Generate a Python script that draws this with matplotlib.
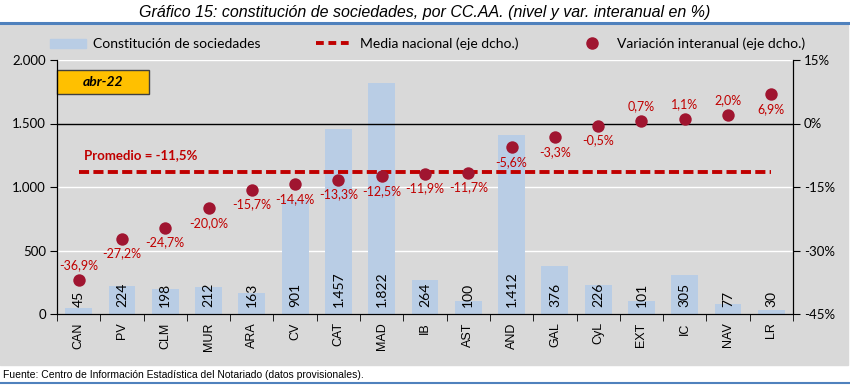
# coding: utf-8
import matplotlib
matplotlib.use("Agg")
import matplotlib.pyplot as plt
from matplotlib.patches import Rectangle
from matplotlib.lines import Line2D
from matplotlib.ticker import FuncFormatter, FixedLocator
import numpy as np

regiones = ["CAN", "PV", "CLM", "MUR", "ARA", "CV", "CAT", "MAD", "IB", "AST",
            "AND", "GAL", "CyL", "EXT", "IC", "NAV", "LR"]
sociedades = [45, 224, 198, 212, 163, 901, 1457, 1822, 264, 100,
              1412, 376, 226, 101, 305, 77, 30]
var_interanual = [-36.9, -27.2, -24.7, -20.0, -15.7, -14.4, -13.3, -12.5, -11.9, -11.7,
                  -5.6, -3.3, -0.5, 0.7, 1.1, 2.0, 6.9]
media_nacional = -11.5
etiquetas_arriba = ["CAN", "EXT", "IC", "NAV"]

GRIS = "#D9D9D9"
AZUL = "#B9CDE5"
ROJO = "#C00000"
PUNTO = "#A01530"
LINEA = "#4F81BD"
FONT = ["Lato", "DejaVu Sans"]
NARROW = ["Liberation Sans Narrow", "Liberation Sans"]


def miles(v, pos):
    return "{:,.0f}".format(v).replace(",", ".")


def coma(v):
    return "{:.1f}%".format(v).replace(".", ",")


fig = plt.figure(figsize=(8.5, 3.85), dpi=100)
fig.patch.set_facecolor("white")

# fondo gris y lineas azules
fig.add_artist(Rectangle((0, 1 - 365 / 385), 848 / 850, (365 - 24) / 385,
                         transform=fig.transFigure, color=GRIS, zorder=0))
fig.add_artist(Line2D([0, 1], [1 - 22.5 / 385] * 2, color=LINEA, lw=2.2))
fig.add_artist(Line2D([0, 1], [1 - 383 / 385] * 2, color=LINEA, lw=1.5))
fig.text(0.5, 1 - 12 / 385, "Gráfico 15: constitución de sociedades, por CC.AA. (nivel y var. interanual en %)",
         ha="center", va="center", fontsize=11.5, style="italic", family=NARROW)
fig.text(0.004, 1 - 375 / 385, "Fuente: Centro de Información Estadística del Notariado (datos provisionales).",
         ha="left", va="center", fontsize=7.5, family=NARROW)

ax = fig.add_axes([57 / 850, 1 - 314 / 385, 736 / 850, 254 / 385])
ax.set_facecolor(GRIS)
x = np.arange(len(regiones))
ax.bar(x, sociedades, width=0.62, color=AZUL, zorder=2)
for xi, v in zip(x, sociedades):
    ax.text(xi, 55, miles(v, None), rotation=90, ha="center", va="bottom",
            fontsize=10, family=FONT, zorder=3)

ax.set_xlim(-0.5, len(regiones) - 0.5)
ax.set_ylim(0, 2000)
ax.set_yticks([0, 500, 1000, 1500, 2000])
ax.yaxis.set_major_formatter(FuncFormatter(miles))
for g in [500, 1000, 2000]:
    ax.axhline(g, color="white", lw=1, zorder=1)
ax.set_xticks(x)
ax.set_xticklabels(regiones, rotation=90, fontsize=9, family=["Liberation Sans"])
ax.xaxis.set_minor_locator(FixedLocator(np.arange(-0.5, len(regiones), 1)))
ax.tick_params(axis="x", which="major", length=0, pad=6)
ax.tick_params(axis="x", which="minor", length=5, direction="out")
ax.tick_params(axis="y", length=5, direction="out", labelsize=9.5, pad=3)
for lab in ax.get_yticklabels():
    lab.set_family(FONT)
ax.spines["top"].set_visible(False)
for s in ["left", "right", "bottom"]:
    ax.spines[s].set_linewidth(0.8)

ax2 = ax.twinx()
ax2.set_ylim(-45, 15)
ax2.set_yticks([-45, -30, -15, 0, 15])
ax2.yaxis.set_major_formatter(FuncFormatter(lambda v, p: "{:.0f}%".format(v)))
ax2.tick_params(axis="y", length=5, direction="out", labelsize=9.5, pad=3)
for lab in ax2.get_yticklabels():
    lab.set_family(FONT)
ax2.spines["top"].set_visible(False)
ax2.axhline(0, color="black", lw=1, zorder=1)
ax2.plot(x, [media_nacional] * len(x), color=ROJO, lw=2.8, dashes=(2.6, 1.1), zorder=3)
ax2.scatter(x, var_interanual, s=80, color=PUNTO, zorder=4, linewidths=0)
for xi, reg, v in zip(x, regiones, var_interanual):
    dy = 10.5 if reg in etiquetas_arriba else -10.5
    ax2.annotate(coma(v), (xi, v), xytext=(0, dy), textcoords="offset points",
                 ha="center", va="center", color=ROJO, fontsize=9, family=FONT, zorder=5)

ax.text((84 - 57) / 736, (314 - 155) / 254, "Promedio = " + coma(media_nacional),
        transform=ax.transAxes, ha="left", va="center", color=ROJO,
        fontsize=9.5, fontweight="bold", family=FONT, zorder=6)

# recuadro de fecha
ax.add_patch(Rectangle((0, (314 - 94) / 254), 92 / 736, 24 / 254, transform=ax.transAxes,
                       facecolor="#FFC000", edgecolor="#404040", lw=1, clip_on=False, zorder=7))
ax.text(46 / 736, (314 - 82) / 254, "abr-22", transform=ax.transAxes, ha="center", va="center",
        fontsize=10, fontweight="bold", style="italic", family=FONT, zorder=8)

# leyenda
handles = [Rectangle((0, 0), 1, 1, color=AZUL),
           Line2D([], [], color=ROJO, lw=2.8, dashes=(2, 1.2)),
           Line2D([], [], marker="o", ls="none", color=PUNTO, markersize=8)]
labels = ["Constitución de sociedades", "Media nacional (eje dcho.)", "Variación interanual (eje dcho.)"]
leg = fig.legend(handles, labels, loc="center", bbox_to_anchor=(0.503, 1 - 44 / 385), ncol=3,
                 frameon=False, columnspacing=4.0, handlelength=2.6, handletextpad=0.5,
                 prop={"family": FONT, "size": 10})

fig.savefig("out.png", dpi=100, facecolor=fig.get_facecolor())
